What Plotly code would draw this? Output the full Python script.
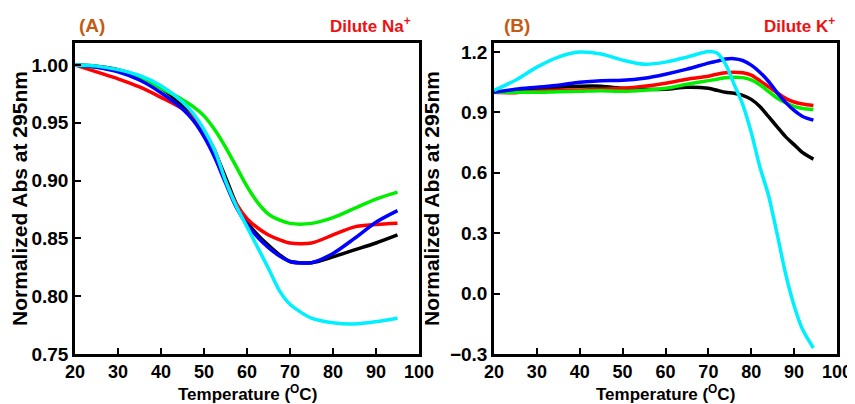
import plotly.graph_objects as go

# ---------------- Data: panel (A) Dilute Na+ ----------------
temp_a = [20, 25, 30, 35, 40, 45, 47.5, 50, 52.5, 55, 57.5, 60, 62.5, 65, 67.5, 70, 75, 80, 85, 90, 95]
a_black = [1.000, 0.999, 0.996, 0.990, 0.980, 0.965, 0.955, 0.942, 0.925, 0.903, 0.880, 0.864, 0.853, 0.844, 0.836, 0.830, 0.829, 0.834, 0.840, 0.846, 0.853]
a_red = [1.000, 0.994, 0.988, 0.981, 0.972, 0.962, 0.954, 0.942, 0.926, 0.900, 0.880, 0.867, 0.859, 0.853, 0.849, 0.846, 0.846, 0.853, 0.860, 0.862, 0.863]
a_green = [1.000, 0.998, 0.995, 0.989, 0.980, 0.970, 0.964, 0.956, 0.944, 0.929, 0.912, 0.895, 0.881, 0.871, 0.866, 0.863, 0.863, 0.868, 0.876, 0.884, 0.890]
a_blue = [1.000, 0.998, 0.994, 0.987, 0.976, 0.962, 0.952, 0.938, 0.920, 0.898, 0.877, 0.862, 0.851, 0.842, 0.835, 0.830, 0.829, 0.837, 0.850, 0.864, 0.874]
a_cyan = [1.000, 0.999, 0.996, 0.991, 0.982, 0.968, 0.958, 0.944, 0.926, 0.900, 0.878, 0.860, 0.842, 0.824, 0.805, 0.793, 0.781, 0.777, 0.776, 0.778, 0.781]

# ---------------- Data: panel (B) Dilute K+ ----------------
temp_b = [20, 25, 30, 35, 40, 45, 50, 55, 60, 65, 70, 72, 74, 76, 78, 80, 82, 84, 86, 88, 90, 92, 94.5]
b_black = [1.000, 1.005, 1.015, 1.025, 1.030, 1.030, 1.020, 1.015, 1.015, 1.025, 1.020, 1.010, 1.000, 0.995, 0.985, 0.965, 0.930, 0.880, 0.830, 0.780, 0.740, 0.700, 0.668]
b_red = [1.000, 0.998, 1.005, 1.010, 1.012, 1.015, 1.020, 1.030, 1.045, 1.065, 1.080, 1.090, 1.097, 1.100, 1.097, 1.085, 1.058, 1.028, 0.998, 0.970, 0.952, 0.942, 0.934]
b_green = [1.000, 1.000, 1.000, 1.003, 1.005, 1.008, 1.005, 1.010, 1.020, 1.040, 1.058, 1.065, 1.072, 1.075, 1.073, 1.062, 1.038, 1.005, 0.972, 0.948, 0.930, 0.920, 0.915]
b_blue = [1.000, 1.015, 1.025, 1.035, 1.050, 1.058, 1.060, 1.070, 1.090, 1.115, 1.145, 1.155, 1.165, 1.167, 1.158, 1.135, 1.100, 1.055, 1.000, 0.950, 0.910, 0.880, 0.862]
b_cyan = [1.010, 1.060, 1.125, 1.175, 1.200, 1.190, 1.160, 1.140, 1.150, 1.175, 1.203, 1.195, 1.140, 1.040, 0.940, 0.800, 0.630, 0.490, 0.300, 0.100, -0.060, -0.180, -0.270]

x_ticks = [20, 30, 40, 50, 60, 70, 80, 90, 100]
a_yticks = [0.75, 0.80, 0.85, 0.90, 0.95, 1.00]
b_yticks = [-0.3, 0.0, 0.3, 0.6, 0.9, 1.2]

colors = {"black": "#000000", "red": "#FF0000", "green": "#00EE00", "blue": "#0000FF", "cyan": "#00F0FF"}
FONT = "Liberation Sans, Arial, sans-serif"

# The page body has an 8px default margin, so the figure is drawn offset by 8px.
OFF = 8
W, H = 855 - OFF, 404 - OFF


def px(x):
    return (x - OFF) / W


def py(y):
    return 1 - (y - OFF) / H


fig = go.Figure()

for name, ys in [("black", a_black), ("red", a_red), ("green", a_green), ("blue", a_blue), ("cyan", a_cyan)]:
    fig.add_trace(go.Scatter(x=temp_a, y=ys, mode="lines", line=dict(color=colors[name], width=3.5, shape="spline", smoothing=0.8),
                             xaxis="x", yaxis="y", showlegend=False, name=name))
for name, ys in [("black", b_black), ("red", b_red), ("green", b_green), ("blue", b_blue), ("cyan", b_cyan)]:
    fig.add_trace(go.Scatter(x=temp_b, y=ys, mode="lines", line=dict(color=colors[name], width=3.5, shape="spline", smoothing=0.8),
                             xaxis="x2", yaxis="y2", showlegend=False, name=name))

ax_common = dict(showline=True, linecolor="black", linewidth=2.5, mirror=True, ticks="inside", ticklen=6,
                 tickwidth=2, tickcolor="black", showgrid=False, zeroline=False, automargin=False)
yfont = dict(family=FONT, size=19, color="black", weight="bold")
xfont = dict(family=FONT, size=18, color="black", weight="bold")
ydom = [py(354), py(43)]

ytitle = dict(text="<b>Normalized Abs at 295nm</b>", font=dict(family=FONT, size=21, color="black"), standoff=5)
xtitle_text = "<b>Temperature (<sup>O</sup>C)</b>"
xtitle_font = dict(family=FONT, size=17, color="black")

fig.update_layout(
    template="none",
    width=W, height=H, margin=dict(l=0, r=0, t=0, b=0),
    paper_bgcolor="white", plot_bgcolor="white",
    xaxis=dict(domain=[px(75), px(419)], range=[20, 100], tickvals=x_ticks, anchor="y", tickfont=xfont, **ax_common),
    yaxis=dict(domain=ydom, range=[0.75, 1.019], tickvals=a_yticks, tickformat=".2f", anchor="x", title=ytitle,
               tickfont=yfont, **ax_common),
    xaxis2=dict(domain=[px(494), px(837)], range=[20, 100], tickvals=x_ticks, anchor="y2", tickfont=xfont, **ax_common),
    yaxis2=dict(domain=ydom, range=[-0.3, 1.245], tickvals=b_yticks, tickformat=".1f", anchor="x2", title=ytitle,
                tickfont=yfont, **ax_common),
    annotations=[
        dict(text=xtitle_text, x=px(247), y=0, xref="paper", yref="paper", showarrow=False,
             xanchor="center", yanchor="bottom", yshift=-2, font=xtitle_font),
        dict(text=xtitle_text, x=px(665), y=0, xref="paper", yref="paper", showarrow=False,
             xanchor="center", yanchor="bottom", yshift=-2, font=xtitle_font),
        dict(text="<b>(A)</b>", x=px(92), y=py(25), xref="paper", yref="paper", showarrow=False,
             xanchor="center", yanchor="middle", font=dict(family=FONT, size=19, color="#C55A11")),
        dict(text="<b>Dilute Na<sup>+</sup></b>", x=px(413), y=py(25), xref="paper", yref="paper", showarrow=False,
             xanchor="right", yanchor="middle", font=dict(family=FONT, size=17, color="#EE1111")),
        dict(text="<b>(B)</b>", x=px(517), y=py(25), xref="paper", yref="paper", showarrow=False,
             xanchor="center", yanchor="middle", font=dict(family=FONT, size=19, color="#C55A11")),
        dict(text="<b>Dilute K<sup>+</sup></b>", x=px(837), y=py(25), xref="paper", yref="paper", showarrow=False,
             xanchor="right", yanchor="middle", font=dict(family=FONT, size=17, color="#EE1111")),
    ],
)

fig.write_html("out.html")
